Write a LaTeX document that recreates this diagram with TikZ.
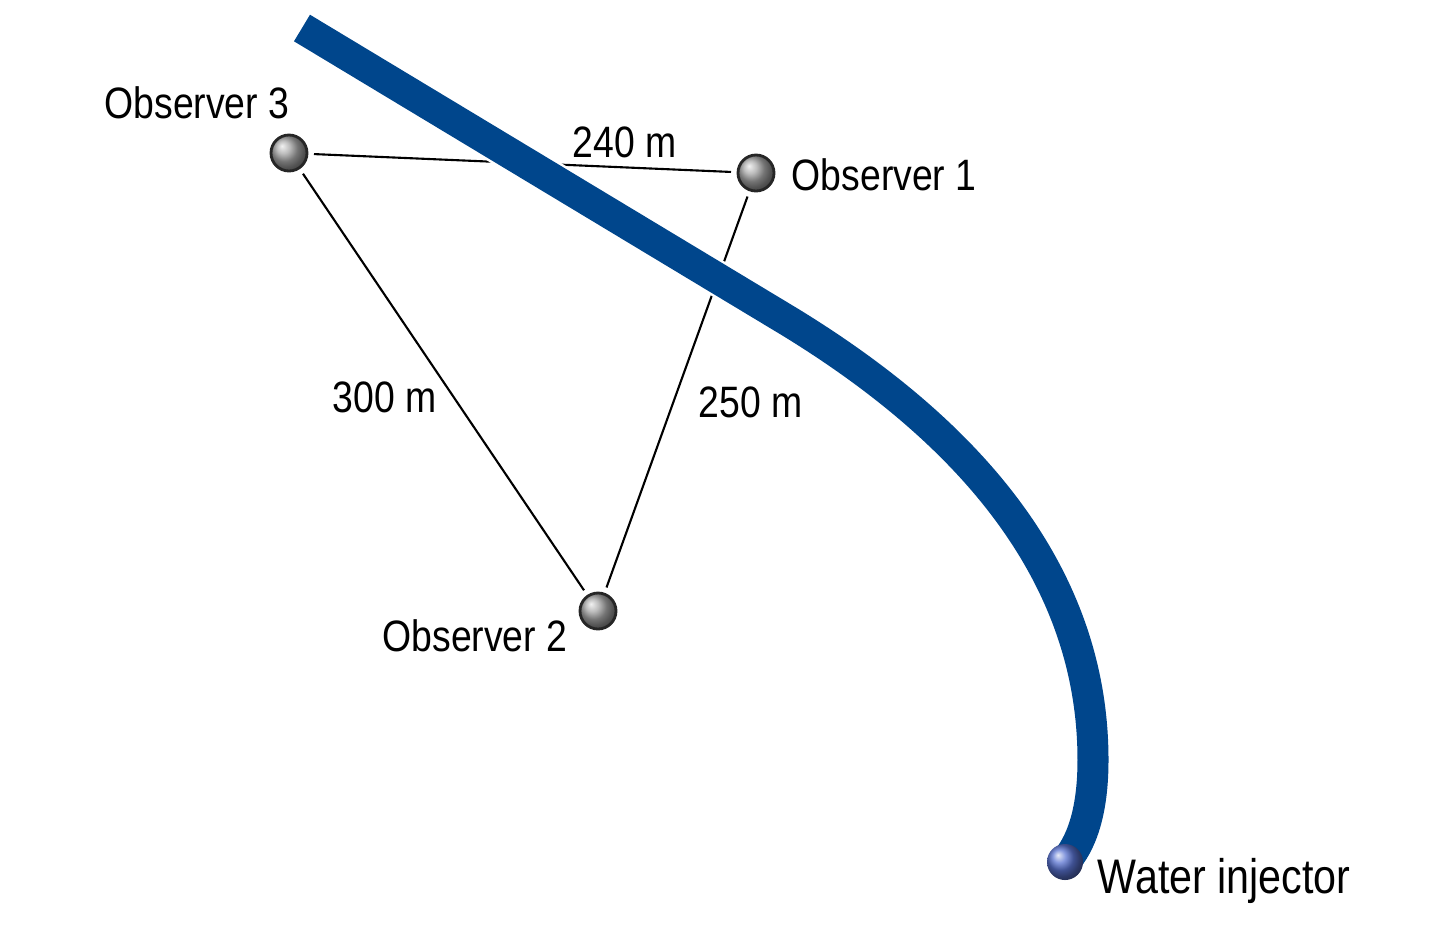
\documentclass[tikz,border=0pt]{standalone}
\usepackage{fontspec}
\setmainfont{Liberation Sans}[FakeStretch=0.85]
\usepackage{tikz}
\definecolor{wellblue}{RGB}{0,70,140}
\definecolor{injblue}{RGB}{60,90,200}
\tikzset{
  observer/.style={circle, draw=black!85, line width=0.8pt, shading=ball, ball color=gray!70,
    minimum size=0.36cm, inner sep=0pt, outer sep=0.07cm},
  injector/.style={circle, shading=ball, ball color=injblue!85, minimum size=0.36cm, inner sep=0pt},
  lbl/.style={inner sep=0pt, font=\fontsize{12.5}{15}\selectfont},
  dist/.style={line width=0.6pt},
  well/.style={line width=0.31cm, draw=wellblue, line cap=butt}
}

\begin{document}
\begin{tikzpicture}[x=0.01cm, y=-0.01cm]
				\useasboundingbox (0,0) rectangle (1442,932);
				
				% observers
				\node[observer] (O1) at (756,173) {};
				\node[observer] (O2) at (598,611) {};
				\node[observer] (O3) at (289,153) {};
				
				% distances
				\draw[dist] (O3) -- (O1);
				\draw[dist] (O3) -- (O2);
				\draw[dist] (O1) -- (O2);
				
				% well path
				\coordinate (top) at (302,28);
				\coordinate (kick) at (790,322);
				\coordinate (bend) at (1093,760);
				\coordinate (inj) at (1065,862);
				\draw[line width=0.36cm, white] (top) -- (kick) .. controls (950,420) and (1093,560) .. (bend)
				.. controls (1093,815) and (1080,845) .. (inj);
				\draw[well] (top) -- (kick) .. controls (950,420) and (1093,560) .. (bend)
				.. controls (1093,815) and (1080,845) .. (inj);
				\node[injector] (W) at (inj) {};
				
				% labels
				\node[lbl, anchor=base east] (L3) at (290,118) {Observer 3};
				\node[lbl, anchor=base west] (L1) at (791,190) {Observer 1};
				\node[lbl, anchor=base east] (L2) at (568,651) {Observer 2};
				\node[lbl, anchor=base west, font=\fontsize{13.8}{16}\selectfont] (LW) at (1097,893) {Water injector};
				
				\node[lbl, anchor=base west] (D31) at (572,157) {240 m};
				\node[lbl, anchor=base west] (D32) at (332,412) {300 m};
				\node[lbl, anchor=base west] (D12) at (698,417) {250 m};
\end{tikzpicture}
\end{document}
